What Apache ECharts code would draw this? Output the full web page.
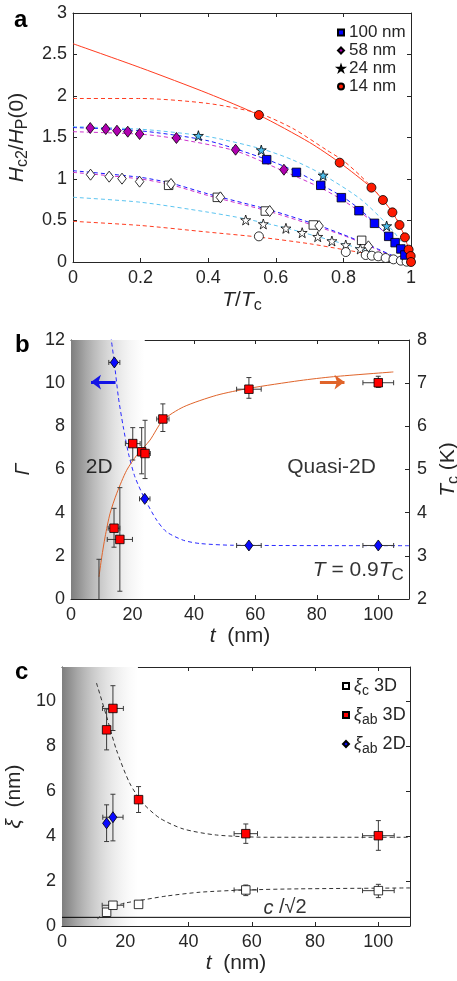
<!DOCTYPE html>
<html>
<head>
<meta charset="utf-8">
<script src="https://cdn.jsdelivr.net/npm/echarts@6/dist/echarts.min.js"></script>
<style>
  html, body { margin: 0; padding: 0; background: #fff; }
  #chart { width: 457px; height: 981px; }
</style>
</head>
<body>
<div id="chart"></div>
<script>
// ---------- panel a: upper critical field vs reduced temperature ----------
// filled markers (in-plane field)
const a100T = [0.573, 0.661, 0.733, 0.794, 0.846, 0.892, 0.934, 0.953, 0.970, 0.982];
const a100H = [1.233, 1.080, 0.924, 0.775, 0.618, 0.466, 0.309, 0.233, 0.157, 0.084];
const a58T  = [0.051, 0.097, 0.130, 0.162, 0.197, 0.306, 0.481, 0.624];
const a58H  = [1.614, 1.602, 1.582, 1.570, 1.542, 1.494, 1.353, 1.112];
const a24T  = [0.371, 0.557, 0.740, 0.928];
const a24H  = [1.522, 1.349, 1.044, 0.434];
const a14T  = [0.550, 0.789, 0.883, 0.917, 0.945, 0.966, 0.982, 0.993, 0.999, 1.000];
const a14H  = [1.771, 1.197, 0.896, 0.747, 0.598, 0.446, 0.297, 0.149, 0.072, 0.000];
// open markers (out-of-plane field)
const o100T = [0.283, 0.427, 0.569, 0.711, 0.854];
const o100H = [0.924, 0.779, 0.614, 0.446, 0.261];
const o58T  = [0.052, 0.107, 0.145, 0.197, 0.290, 0.436, 0.582, 0.728, 0.874];
const o58H  = [1.052, 1.028, 1.004, 0.968, 0.940, 0.779, 0.614, 0.434, 0.189];
const o24T  = [0.511, 0.563, 0.630, 0.678, 0.724, 0.766, 0.807, 0.850];
const o24H  = [0.506, 0.458, 0.406, 0.353, 0.305, 0.253, 0.205, 0.157];
const o14T  = [0.550, 0.807, 0.866, 0.884, 0.903, 0.925, 0.948, 0.970, 0.987];
const o14H  = [0.309, 0.120, 0.084, 0.076, 0.068, 0.048, 0.032, 0.016, 0.004];
// fitted curves
const fitRedSolid = [[0,2.63],[0.2,2.34],[0.4,2.03],[0.55,1.77],[0.7,1.44],[0.789,1.197],[0.883,0.896],[0.917,0.747],[0.945,0.598],[0.966,0.446],[0.982,0.297],[0.993,0.149],[1,0]];
const fitRedDashHi = [[0,1.97],[0.2,1.97],[0.4,1.91],[0.55,1.79],[0.65,1.61],[0.75,1.35],[0.8,1.22],[0.85,1.04],[0.9,0.83],[0.95,0.57],[0.98,0.33],[1,0]];
const fitRedDashLo = [[0,0.49],[0.2,0.44],[0.4,0.36],[0.55,0.30],[0.7,0.22],[0.8,0.15],[0.9,0.08],[1,0]];
const fitCyanHi = [[0,1.63],[0.2,1.60],[0.4,1.51],[0.56,1.36],[0.65,1.23],[0.74,1.05],[0.85,0.76],[0.93,0.45],[0.97,0.25],[1,0]];
const fitBlueHi = [[0,1.62],[0.2,1.58],[0.4,1.46],[0.57,1.24],[0.66,1.09],[0.73,0.94],[0.8,0.78],[0.85,0.63],[0.89,0.48],[0.93,0.32],[0.97,0.15],[1,0]];
const fitMagHi = [[0,1.57],[0.2,1.54],[0.3,1.49],[0.48,1.34],[0.62,1.10],[0.73,0.90],[0.8,0.74],[0.85,0.60],[0.9,0.44],[0.94,0.28],[0.97,0.14],[1,0]];
const fitBlueLo = [[0,1.10],[0.2,1.02],[0.29,0.95],[0.4,0.82],[0.58,0.63],[0.72,0.45],[0.8,0.33],[0.86,0.23],[0.9,0.16],[0.95,0.07],[1,0]];
const fitMagLo = [[0,1.08],[0.2,1.00],[0.29,0.93],[0.4,0.80],[0.58,0.61],[0.72,0.43],[0.8,0.32],[0.86,0.22],[0.9,0.15],[0.95,0.06],[1,0]];
const fitCyanLo = [[0,0.78],[0.2,0.72],[0.4,0.60],[0.51,0.52],[0.63,0.41],[0.72,0.31],[0.8,0.22],[0.85,0.16],[0.9,0.10],[0.95,0.05],[1,0]];

// ---------- panel b: anisotropy and Tc vs thickness ----------
const gT    = [14.1, 24.0, 57.9, 100.0];
const gVal  = [10.96, 4.64, 2.48, 2.48];
const gTerr = [1.8, 1.7, 4.0, 5.0];
const tcT    = [14.0, 15.9, 20.1, 23.0, 24.1, 29.9, 57.9, 100.0];
const tcK    = [3.64, 3.38, 5.60, 5.41, 5.37, 6.17, 6.86, 7.01];
const tcLo   = [3.20, 2.18, 5.22, 4.90, 4.79, 5.88, 6.65, 6.90];
const tcHi   = [4.10, 4.58, 5.97, 5.97, 6.14, 6.52, 7.13, 7.16];
const tcTerr = [1.9, 4.1, 2.4, 1.2, 1.7, 2.0, 4.0, 5.0];
// thinnest film: only its error bar falls inside the axis range
const tcEdgeT = [9.1], tcEdgeK = [2.0], tcEdgeLo = [1.08], tcEdgeHi = [2.92];
const gammaFit = [[13.0,12.2],[13.2,11.92],[14.1,10.96],[15.4,9.37],[17.0,7.98],[18.7,6.74],[20.8,5.66],[24.0,4.64],[27.9,3.65],[31.1,3.11],[36.6,2.72],[42,2.57],[52.8,2.49],[110,2.47]];
const tcFit = [[9.1,2.51],[10.0,2.97],[11.1,3.44],[12.7,3.98],[14.9,4.45],[18.1,4.98],[21.4,5.33],[25.7,5.68],[29.9,6.14],[36.6,6.45],[47.4,6.72],[57.9,6.88],[74.5,7.06],[85.4,7.15],[104.9,7.26]];

// ---------- panel c: coherence lengths vs thickness ----------
const xiAbT = [14.1, 16.1, 24.2, 58.1, 100.0];
const xiAb  = [8.71, 9.66, 5.61, 4.10, 4.01];
const xiAbLo = [7.82, 8.68, 5.04, 3.67, 3.36];
const xiAbHi = [9.63, 10.67, 6.19, 4.53, 4.68];
const xiAbTerr = [0, 3.3, 0, 3.7, 5.0];
const xi2dT = [14.1, 16.1];
const xi2d  = [4.56, 4.83];
const xi2dLo = [3.75, 3.78];
const xi2dHi = [5.38, 5.85];
const xi2dTerr = [0, 3.2];
const xiCT = [14.1, 16.1, 24.2, 58.1, 100.0];
const xiC  = [0.61, 0.92, 0.96, 1.60, 1.57];
const xiCLo = [0.61, 0.80, 0.96, 1.35, 1.26];
const xiCHi = [0.61, 1.08, 0.96, 1.82, 1.85];
const xiCTerr = [0, 3.4, 0, 3.7, 5.0];
const xiAbFit = [[10.9,10.79],[14.1,9.3],[17.2,7.82],[21.4,6.34],[25.6,5.45],[30.9,4.79],[38.3,4.31],[48.8,4.04],[64.7,3.94],[110,3.94]];
const xiCFit = [[11.1,0.30],[13,0.55],[16,0.85],[20,1.02],[24,1.12],[33,1.33],[43.6,1.50],[58,1.60],[75,1.65],[110,1.69]];
const cOverRoot2 = 0.385;
const shadeRange = [0, 24];

// ---------- helpers ----------
const FONT = '"Liberation Sans", Arial, sans-serif';
const INK = '#262626';
const TICK = 18, TITLE = 21;
const zip = (xs, ys) => xs.map((x, i) => [x, ys[i]]);
const errRows = (xs, ys, dx, lo, hi) => xs.map((x, i) => [x, ys[i], dx[i], lo[i], hi[i]]);
const STAR = 'path://M50,0 L61.8,35.1 L98.9,35.1 L69,57 L80.3,92.5 L50,71 L19.7,92.5 L31,57 L1.1,35.1 L38.2,35.1 Z';

function axis(extra) {
  return Object.assign({
    type: 'value',
    axisLine: { show: true, onZero: false, lineStyle: { color: INK, width: 1 } },
    axisTick: { show: true, inside: true, length: 4, lineStyle: { color: INK } },
    splitLine: { show: false },
    axisLabel: { color: INK, fontSize: TICK, fontFamily: FONT }
  }, extra);
}
function mirror(extra) {
  return axis(Object.assign({ axisLabel: { show: false } }, extra));
}
function tickLabel(margin, step) {
  const o = { color: INK, fontSize: TICK, fontFamily: FONT, margin: margin };
  if (step) o.formatter = (v) => (Math.abs(v / step - Math.round(v / step)) < 1e-6 ? String(+v.toFixed(2)) : '');
  return o;
}
const nameStyle = {
  color: INK, fontFamily: FONT, fontSize: TITLE,
  rich: {
    i: { fontStyle: 'italic', fontSize: TITLE, fontFamily: FONT, color: INK },
    n: { fontSize: TITLE, fontFamily: FONT, color: INK },
    s: { fontSize: 16, fontFamily: FONT, color: INK, padding: [11, 0, 0, 0] }
  }
};

// error bars: [x, y, dx, yLow, yHigh]
function errRender(color) {
  return function (params, api) {
    const cs = params.coordSys;
    const x = api.value(0), y = api.value(1), dx = api.value(2), lo = api.value(3), hi = api.value(4);
    const st = { stroke: color, lineWidth: 1 };
    const cap = 2.5;
    const ch = [];
    const top = cs.y, bot = cs.y + cs.height;
    if (hi > lo) {
      const a = api.coord([x, hi]), b = api.coord([x, lo]);
      const ya = Math.max(top, Math.min(bot, a[1])), yb = Math.max(top, Math.min(bot, b[1]));
      ch.push({ type: 'line', shape: { x1: a[0], y1: ya, x2: a[0], y2: yb }, style: st });
      if (ya === a[1]) ch.push({ type: 'line', shape: { x1: a[0] - cap, y1: ya, x2: a[0] + cap, y2: ya }, style: st });
      if (yb === b[1]) ch.push({ type: 'line', shape: { x1: b[0] - cap, y1: yb, x2: b[0] + cap, y2: yb }, style: st });
    }
    if (dx > 0) {
      const a = api.coord([x - dx, y]), b = api.coord([x + dx, y]);
      ch.push({ type: 'line', shape: { x1: a[0], y1: a[1], x2: b[0], y2: b[1] }, style: st });
      ch.push({ type: 'line', shape: { x1: a[0], y1: a[1] - cap, x2: a[0], y2: a[1] + cap }, style: st });
      ch.push({ type: 'line', shape: { x1: b[0], y1: b[1] - cap, x2: b[0], y2: b[1] + cap }, style: st });
    }
    return { type: 'group', children: ch };
  };
}
function errSeries(xi, yi, rows, color) {
  return {
    type: 'custom', xAxisIndex: xi, yAxisIndex: yi, silent: true,
    dimensions: ['x', 'y', 'dx', 'lo', 'hi'], encode: { x: 0, y: 1 },
    renderItem: errRender(color), data: rows, z: 3
  };
}
// grey band marking the 2D regime
function shadeSeries(xi, yi, yMin, yMax) {
  return {
    type: 'custom', xAxisIndex: xi, yAxisIndex: yi, silent: true, z: 1,
    data: [shadeRange],
    encode: { x: [0, 1] },
    renderItem: function (params, api) {
      const p0 = api.coord([api.value(0), yMax]);
      const p1 = api.coord([api.value(1), yMin]);
      return {
        type: 'rect',
        shape: { x: p0[0], y: p0[1], width: p1[0] - p0[0], height: p1[1] - p0[1] },
        style: {
          fill: new echarts.graphic.LinearGradient(0, 0, 1, 0, [
            { offset: 0, color: '#7e7e7e' },
            { offset: 0.1, color: '#929292' },
            { offset: 0.2, color: '#a7a7a7' },
            { offset: 0.3, color: '#b9b9b9' },
            { offset: 0.4, color: '#c9c9c9' },
            { offset: 0.5, color: '#d7d7d7' },
            { offset: 0.6, color: '#e3e3e3' },
            { offset: 0.7, color: '#ededed' },
            { offset: 0.8, color: '#f5f5f5' },
            { offset: 0.9, color: '#fbfbfb' },
            { offset: 1, color: '#ffffff' }
          ])
        }
      };
    }
  };
}
function curve(xi, yi, data, color, dashed, width) {
  return {
    type: 'line', xAxisIndex: xi, yAxisIndex: yi, data: data, smooth: 0.25,
    showSymbol: false, symbol: 'none', silent: true, z: 2,
    lineStyle: { color: color, width: width || 1, type: dashed ? [4, 3] : 'solid' }
  };
}
function marks(name, xi, yi, data, symbol, size, fill, border) {
  return {
    name: name, type: 'scatter', xAxisIndex: xi, yAxisIndex: yi, data: data,
    symbol: symbol, symbolSize: size, silent: true, z: 4,
    itemStyle: { color: fill, borderColor: border || '#000', borderWidth: 0.8, opacity: 1 }
  };
}
function textMark(xi, yi, pos, text, align, size, rich) {
  return {
    type: 'scatter', xAxisIndex: xi, yAxisIndex: yi, data: [pos], symbolSize: 0, silent: true, z: 5,
    label: {
      show: true, position: 'inside', formatter: text, align: align || 'center',
      color: '#000', fontFamily: FONT, fontSize: size, rich: rich || {}
    }
  };
}

const chart = echarts.init(document.getElementById('chart'), null, { renderer: 'canvas' });

const option = {
  backgroundColor: '#fff',
  animation: false,
  grid: [
    { left: 73, top: 13, width: 338, height: 249, containLabel: false, outerBoundsMode: 'none' },
    { left: 71, top: 340, width: 338, height: 259, containLabel: false, outerBoundsMode: 'none' },
    { left: 62, top: 667, width: 348, height: 259, containLabel: false, outerBoundsMode: 'none' }
  ],
  xAxis: [
    axis({ gridIndex: 0, min: 0, max: 1, interval: 0.2, position: 'bottom', axisLabel: tickLabel(7),
      name: '{i|T}{n|/}{i|T}{s|c}', nameLocation: 'middle', nameGap: 25, nameTextStyle: nameStyle }),
    mirror({ gridIndex: 0, min: 0, max: 1, interval: 0.2, position: 'top' }),
    axis({ gridIndex: 1, min: 0, max: 110, interval: 20, position: 'bottom', axisLabel: tickLabel(7, 20),
      name: '{i|t}{n|  (nm)}', nameLocation: 'middle', nameGap: 27, nameTextStyle: nameStyle }),
    mirror({ gridIndex: 1, min: 0, max: 110, interval: 20, position: 'top' }),
    axis({ gridIndex: 2, min: 0, max: 110, interval: 20, position: 'bottom', axisLabel: tickLabel(7, 20),
      name: '{i|t}{n|  (nm)}', nameLocation: 'middle', nameGap: 27, nameTextStyle: nameStyle }),
    mirror({ gridIndex: 2, min: 0, max: 110, interval: 20, position: 'top' })
  ],
  yAxis: [
    axis({ gridIndex: 0, min: 0, max: 3, interval: 0.5, position: 'left', axisLabel: tickLabel(6, 0.5),
      name: '{i|H}{s|c2}{n|/}{i|H}{s|P}{n|(0)}', nameLocation: 'middle', nameRotate: 90, nameGap: 36, nameTextStyle: nameStyle }),
    mirror({ gridIndex: 0, min: 0, max: 3, interval: 0.5, position: 'right' }),
    axis({ gridIndex: 1, min: 0, max: 12, interval: 2, position: 'left', axisLabel: tickLabel(6),
      name: '{i|Γ}', nameLocation: 'middle', nameRotate: 90, nameGap: 31, nameTextStyle: nameStyle }),
    axis({ gridIndex: 1, min: 2, max: 8, interval: 1, position: 'right', axisLabel: tickLabel(8),
      name: '{i|T}{s|c}{n| (K)}', nameLocation: 'middle', nameRotate: 90, nameGap: 20, nameTextStyle: nameStyle }),
    axis({ gridIndex: 2, min: 0, max: 11.5, interval: 2, position: 'left', axisLabel: tickLabel(6, 2),
      name: '{i|ξ}{n|  (nm)}', nameLocation: 'middle', nameRotate: 90, nameGap: 25, nameTextStyle: nameStyle }),
    mirror({ gridIndex: 2, min: 0, max: 11.5, interval: 2, position: 'right' })
  ],
  legend: [
    {
      data: ['100 nm', '58 nm', '24 nm', '14 nm'], orient: 'vertical', left: 332, top: 19,
      itemWidth: 6, itemHeight: 6, itemGap: 1, selectedMode: false,
      textStyle: { color: INK, fontSize: 17, fontFamily: FONT, padding: [0, 0, 0, 0] }
    },
    {
      data: ['xic3', 'xiab3', 'xiab2'], orient: 'vertical', left: 337, top: 672,
      itemWidth: 6, itemHeight: 6, itemGap: 8, selectedMode: false,
      formatter: (n) => ({ xic3: '{g|ξ}{s|c}{n| 3D}', xiab3: '{g|ξ}{s|ab}{n| 3D}', xiab2: '{g|ξ}{s|ab}{n| 2D}' })[n],
      textStyle: {
        color: INK, fontSize: 17, fontFamily: FONT,
        rich: {
          g: { fontSize: 18, fontStyle: 'italic', fontFamily: FONT, color: INK },
          s: { fontSize: 14, fontFamily: FONT, color: INK, padding: [10, 0, 0, 0] },
          n: { fontSize: 18, fontFamily: FONT, color: INK }
        }
      }
    }
  ],
  graphic: [
    { type: 'text', left: 14, top: 8, style: { text: 'a', font: 'bold 24px "Liberation Sans", Arial', fill: '#000' } },
    { type: 'text', left: 15, top: 333, style: { text: 'b', font: 'bold 24px "Liberation Sans", Arial', fill: '#000' } },
    { type: 'text', left: 15, top: 660, style: { text: 'c', font: 'bold 24px "Liberation Sans", Arial', fill: '#000' } }
  ],
  series: [
    // panel a curves
    curve(0, 0, fitRedDashHi, '#ff3b1f', true),
    curve(0, 0, fitRedDashLo, '#ff3b1f', true),
    curve(0, 0, fitCyanHi, '#5cc4f0', true),
    curve(0, 0, fitCyanLo, '#5cc4f0', true),
    curve(0, 0, fitMagHi, '#cc33cc', true),
    curve(0, 0, fitMagLo, '#cc33cc', true),
    curve(0, 0, fitBlueHi, '#1a1aff', true),
    curve(0, 0, fitBlueLo, '#1a1aff', true),
    curve(0, 0, fitRedSolid, '#ff3b1f', false),
    // panel a open markers
    marks('o100', 0, 0, zip(o100T, o100H), 'rect', 8.5, '#fff'),
    marks('o58', 0, 0, zip(o58T, o58H), 'diamond', [8.5, 11], '#fff'),
    marks('o24', 0, 0, zip(o24T, o24H), STAR, 10, '#fff'),
    marks('o14', 0, 0, zip(o14T, o14H), 'circle', 9, '#fff'),
    // panel a filled markers
    marks('100 nm', 0, 0, zip(a100T, a100H), 'rect', 8.5, '#0000ff'),
    marks('58 nm', 0, 0, zip(a58T, a58H), 'diamond', [8.5, 11], '#b000b0'),
    marks('24 nm', 0, 0, zip(a24T, a24H), STAR, 10, '#4dbeee'),
    marks('14 nm', 0, 0, zip(a14T, a14H), 'circle', 9, '#ff1a00'),

    // panel b
    shadeSeries(2, 2, 0, 12),
    curve(2, 2, gammaFit, '#2a2aff', true),
    curve(2, 3, tcFit, '#e0642a', false),
    errSeries(2, 3, errRows(tcEdgeT, tcEdgeK, [0], tcEdgeLo, tcEdgeHi), '#3a3a3a'),
    errSeries(2, 3, errRows(tcT, tcK, tcTerr, tcLo, tcHi), '#3a3a3a'),
    errSeries(2, 2, errRows(gT, gVal, gTerr, gVal, gVal), '#3a3a3a'),
    marks('gamma', 2, 2, zip(gT, gVal), 'diamond', [8, 11], '#0a0aff'),
    marks('tc', 2, 3, zip(tcT, tcK), 'rect', 8.5, '#ff0000'),
    {
      type: 'line', xAxisIndex: 2, yAxisIndex: 2, data: [], silent: true, z: 5,
      markLine: {
        silent: true, symbol: ['none', 'arrow'], symbolSize: [11, 10], label: { show: false },
        data: [
          [{ coord: [14.5, 10.05], lineStyle: { color: '#1414e6', width: 3, type: 'solid' } }, { coord: [6.5, 10.05] }],
          [{ coord: [81, 10.05], lineStyle: { color: '#e0642a', width: 3, type: 'solid' } }, { coord: [89, 10.05] }]
        ]
      }
    },
    textMark(2, 2, [9.2, 6.1], '2D', 'center', 21),
    textMark(2, 2, [84.8, 6.1], 'Quasi-2D', 'center', 21),
    textMark(2, 2, [93.5, 1.33], '{i|T}{n| = 0.9}{i|T}{s|C}', 'center', 21, {
      i: { fontStyle: 'italic', fontSize: 21, fontFamily: FONT, color: '#000' },
      n: { fontSize: 21, fontFamily: FONT, color: '#000' },
      s: { fontSize: 17, fontFamily: FONT, color: '#000', padding: [10, 0, 0, 0] }
    }),

    // panel c
    shadeSeries(4, 4, 0, 11.5),
    {
      type: 'line', xAxisIndex: 4, yAxisIndex: 4, silent: true, z: 2, symbol: 'none', showSymbol: false,
      data: [[0, cOverRoot2], [110, cOverRoot2]], lineStyle: { color: '#000', width: 1 }
    },
    curve(4, 4, xiAbFit, '#333', true),
    curve(4, 4, xiCFit, '#333', true),
    errSeries(4, 4, errRows(xiAbT, xiAb, xiAbTerr, xiAbLo, xiAbHi), '#3a3a3a'),
    errSeries(4, 4, errRows(xi2dT, xi2d, xi2dTerr, xi2dLo, xi2dHi), '#3a3a3a'),
    errSeries(4, 4, errRows(xiCT, xiC, xiCTerr, xiCLo, xiCHi), '#3a3a3a'),
    marks('xic3', 4, 4, zip(xiCT, xiC), 'rect', 8.5, '#fff'),
    marks('xiab3', 4, 4, zip(xiAbT, xiAb), 'rect', 8.5, '#ff0000'),
    marks('xiab2', 4, 4, zip(xi2dT, xi2d), 'diamond', [8, 11], '#0a0aff'),
    textMark(4, 4, [70.5, 0.80], '{i|c}{n| /√2}', 'center', 20, {
      i: { fontStyle: 'italic', fontSize: 20, fontFamily: FONT, color: '#000' },
      n: { fontSize: 20, fontFamily: FONT, color: '#000' }
    })
  ]
};

chart.setOption(option);
</script>
</body>
</html>
